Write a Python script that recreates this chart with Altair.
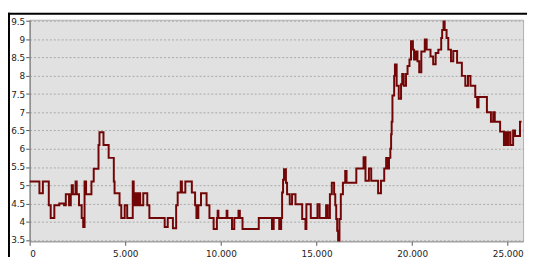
import altair as alt
import pandas as pd

# step series
xs = [0, 510, 690, 1000, 1100, 1290, 1550, 1800, 1890, 2060, 2150, 2200, 2260, 2400, 2460,
      2580, 2720, 2800, 2870, 2950, 3230, 3350, 3600, 3650, 3860, 4130, 4400, 4440, 4700,
      4790, 4970, 5100, 5390, 5440, 5530, 5600, 5700, 5780, 5940, 6150, 6260, 7060, 7220,
      7490, 7660, 7740, 7900, 7960, 8140, 8480, 8650, 8720, 8820, 8960, 9250, 9400, 9620,
      9790, 9830, 9870, 10300, 10340, 10580, 10700, 10920, 10990, 11130, 11980, 12670,
      12760, 13050, 13150, 13200, 13250, 13300, 13400, 13460, 13600, 13720, 13900, 14250,
      14420, 14470, 14700, 15050, 15160, 15500, 15590, 15700, 15800, 15920, 15980, 16030,
      16080, 16130, 16200, 16270, 16380, 16500, 16570, 17080, 17460, 17560, 17740, 17860,
      18220, 18370, 18540, 18640, 18720, 18790, 18860, 18900, 18930, 18970, 19060, 19100,
      19190, 19300, 19420, 19480, 19560, 19680, 19760, 19860, 19940, 20040, 20100, 20190,
      20280, 20370, 20480, 20660, 20760, 20960, 21100, 21230, 21370, 21520, 21570, 21640,
      21700, 21800, 21890, 22030, 22150, 22350, 22600, 22780, 22920, 23050, 23300, 23400,
      23470, 23910, 24120, 24240, 24320, 24600, 24800, 24880, 24970, 25030, 25140, 25280,
      25380, 25640, 25720]
ys = [5.1, 4.78, 5.1, 4.45, 4.1, 4.45, 4.5, 4.45, 4.75, 4.45, 4.75, 5.0, 4.75, 5.1, 4.75,
      4.45, 4.1, 3.85, 5.1, 4.75, 5.1, 5.45, 6.1, 6.45, 6.1, 5.75, 5.1, 4.78, 4.45,
      4.1, 4.45, 4.1, 5.1, 4.45, 4.78, 4.45, 4.78, 4.45, 4.78, 4.45, 4.1, 3.85, 4.1,
      3.82, 4.45, 4.8, 5.1, 4.8, 5.1, 4.8, 4.45, 4.1, 4.45, 4.78, 4.45, 4.1, 3.8,
      4.1, 4.3, 4.1, 4.3, 4.1, 3.8, 4.1, 4.3, 4.1, 3.8, 4.1, 3.8,
      4.1, 3.8, 4.1, 4.8, 5.15, 5.44, 5.07, 4.75, 4.48, 4.75, 4.48, 4.07,
      3.8, 4.48, 4.1, 4.48, 4.1, 4.45, 4.1, 4.75, 5.07, 4.75, 4.45, 4.07,
      3.75, 3.48, 4.07, 4.75, 5.07, 5.39, 5.07, 5.46, 5.77, 5.12, 5.46, 5.12,
      4.78, 5.12, 5.46, 5.75, 5.46, 5.75, 6.0, 6.4, 6.74, 7.46, 8.0, 8.31,
      7.73, 7.37, 7.77, 8.05, 7.73, 8.05, 8.27, 8.45, 8.95, 8.72, 8.45, 8.67,
      8.4, 8.1, 8.67, 9.0, 8.72, 8.53, 8.32, 8.63, 8.72, 9.04, 9.26, 9.49,
      9.26, 9.04, 8.72, 8.4, 8.68, 8.36, 8.0, 7.73, 8.0, 7.73, 7.42, 7.14,
      7.42, 7.0, 6.74, 7.0, 6.74, 6.47, 6.1, 6.45, 6.1, 6.45, 6.1, 6.5,
      6.35, 6.74, 6.74]

x_ticks = [0, 5000, 10000, 15000, 20000, 25000]
y_ticks = [3.5, 4, 4.5, 5, 5.5, 6, 6.5, 7, 7.5, 8, 8.5, 9, 9.5]

df = pd.DataFrame({"x": xs, "y": ys})

line = alt.Chart(df).mark_line(
    interpolate="step-after", color="#720606", strokeWidth=2
).encode(
    x=alt.X("x:Q", scale=alt.Scale(domain=[0, 25800], nice=False, zero=False),
            axis=alt.Axis(values=x_ticks, format=",d", title=None, grid=False,
                          labelFontSize=9, labelColor="#222", tickSize=4,
                          tickColor="#555", domainColor="#999", labelPadding=4,
                          labelFont="DejaVu Sans")),
    y=alt.Y("y:Q", scale=alt.Scale(domain=[3.46, 9.54], nice=False, zero=False),
            axis=alt.Axis(values=y_ticks, format=".1~f", title=None, grid=True,
                          gridDash=[2, 2], gridColor="#9a9a9a", gridWidth=0.8,
                          labelFontSize=9, labelColor="#222", tickSize=4,
                          tickColor="#555", domainColor="#8a8a8a", domainWidth=1.5,
                          labelPadding=1, labelFont="DejaVu Sans")),
)

frame = alt.Chart(alt.Data(values=[{}]))
top_rule = frame.mark_rule(color="black", strokeWidth=2).encode(
    x=alt.value(-22), x2=alt.value(510), y=alt.value(-6))
left_rule = frame.mark_rule(color="black", strokeWidth=2).encode(
    x=alt.value(-21), y=alt.value(-7), y2=alt.value(260))

chart = alt.layer(line, top_rule, left_rule).properties(
    width=501, height=225,
    padding={"left": 22, "top": 10, "right": 4, "bottom": 14},
    autosize="none",
    background="white",
).configure_view(fill="#e1e1e1", stroke="#b0b0b0", strokeWidth=1)

chart.save("out.html", embed_options={"renderer": "svg", "actions": False})
